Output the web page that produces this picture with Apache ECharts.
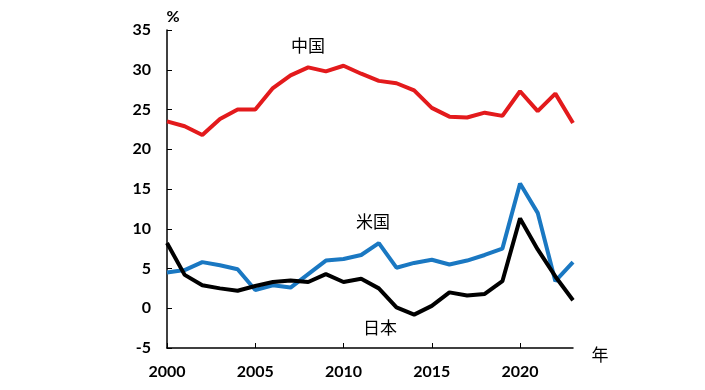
<!DOCTYPE html>
<html><head><meta charset="utf-8">
<script src="https://cdn.jsdelivr.net/npm/echarts@6/dist/echarts.min.js"></script>
<style>html,body{margin:0;padding:0;background:#fff}#c{width:705px;height:390px}</style>
</head><body><div id="c"></div>
<script>
const years = ['2000','2001','2002','2003','2004','2005','2006','2007','2008','2009','2010','2011','2012','2013','2014','2015','2016','2017','2018','2019','2020','2021','2022','2023'];
const china = [23.5,22.9,21.8,23.8,25.0,25.0,27.7,29.3,30.3,29.8,30.5,29.5,28.6,28.3,27.4,25.2,24.1,24.0,24.6,24.2,27.3,24.8,27.0,23.3];
const usa = [4.5,4.8,5.8,5.4,4.9,2.3,2.9,2.6,4.3,6.0,6.2,6.7,8.2,5.1,5.7,6.1,5.5,6.0,6.7,7.5,15.7,12.0,3.4,5.8];
const japan = [8.2,4.2,2.9,2.5,2.2,2.8,3.3,3.5,3.3,4.3,3.3,3.7,2.5,0.1,-0.8,0.3,2.0,1.6,1.8,3.4,11.3,7.4,4.0,1.0];
const yTicks = {min:-5, max:35, interval:5};
const seriesNames = ['中国','米国','日本'];
const unitY = '%';
const unitX = '年';

const chart = echarts.init(document.getElementById('c'));
const tickFont = {fontFamily:'Lato, "Open Sans", sans-serif', fontWeight:'bold', fontSize:16, color:'#000'};
const cjk = {fontFamily:'"Noto Sans CJK JP", sans-serif', fontSize:17, fill:'#000'};
chart.setOption({
  animation:false,
  grid:{left:167, right:132, top:30, bottom:42},
  xAxis:{type:'category', data:years, boundaryGap:false,
    axisLine:{onZero:false, lineStyle:{color:'#000', width:1.5}},
    axisTick:{inside:true, length:5, interval:4, lineStyle:{color:'#000'}},
    axisLabel:Object.assign({interval:4, margin:16}, tickFont),
    splitLine:{show:false}},
  yAxis:{type:'value', min:yTicks.min, max:yTicks.max, interval:yTicks.interval,
    axisLine:{show:true, lineStyle:{color:'#000', width:1.5}},
    axisTick:{show:true, inside:true, length:5, lineStyle:{color:'#000'}},
    axisLabel:Object.assign({margin:16}, tickFont),
    splitLine:{show:false}},
  series:[
    {name:seriesNames[0], type:'line', data:china, symbol:'none', lineStyle:{color:'#e31a1c', width:4}},
    {name:seriesNames[1], type:'line', data:usa, symbol:'none', lineStyle:{color:'#1a78c2', width:4}},
    {name:seriesNames[2], type:'line', data:japan, symbol:'none', lineStyle:{color:'#000', width:4}}
  ],
  graphic:[
    {type:'text', x:308, y:46, style:Object.assign({text:seriesNames[0], align:'center', verticalAlign:'middle'}, cjk)},
    {type:'text', x:373, y:222, style:Object.assign({text:seriesNames[1], align:'center', verticalAlign:'middle'}, cjk)},
    {type:'text', x:380, y:328, style:Object.assign({text:seriesNames[2], align:'center', verticalAlign:'middle'}, cjk)},
    {type:'text', x:600, y:355, style:Object.assign({text:unitX, align:'center', verticalAlign:'middle'}, cjk)},
    {type:'text', x:173, y:17, style:{text:unitY, align:'center', verticalAlign:'middle', fontFamily:'Lato, sans-serif', fontWeight:'bold', fontSize:16, fill:'#000'}}
  ]
});
</script></body></html>
